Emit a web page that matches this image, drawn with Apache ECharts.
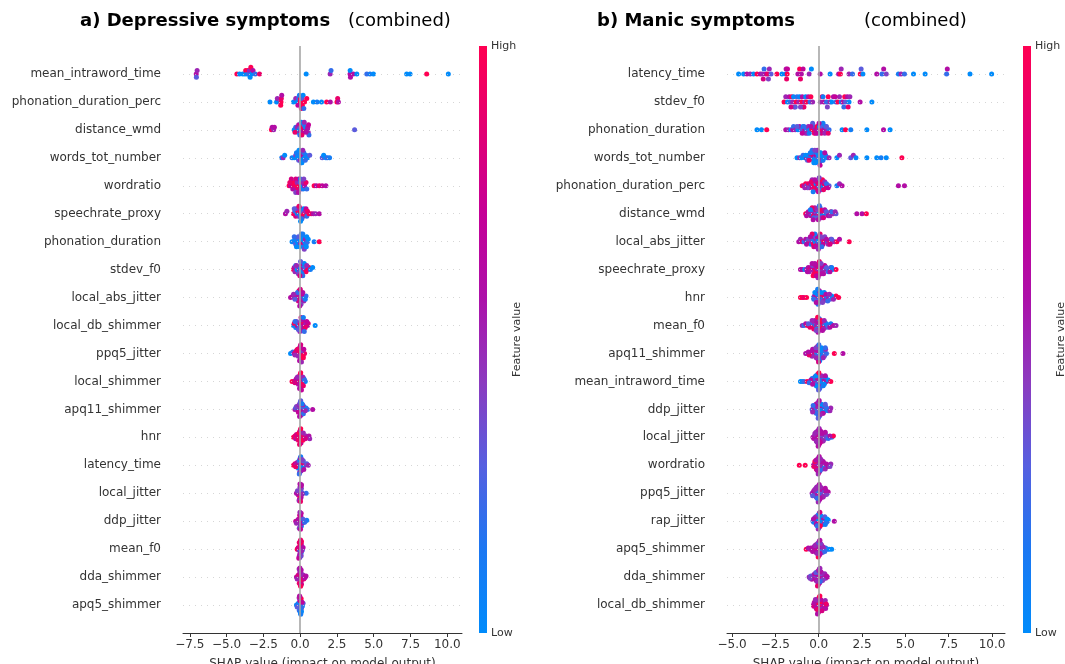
<!DOCTYPE html>
<html><head><meta charset="utf-8">
<script src="https://cdn.jsdelivr.net/npm/echarts@6/dist/echarts.min.js"></script>
<style>html,body{margin:0;padding:0;background:#fff}#c{width:1065px;height:664px}</style>
</head><body><div id="c"></div>
<script>
// ---------- DATA ----------
const depTitle = 'a) Depressive symptoms';
const manTitle = 'b) Manic symptoms';
const subTitle = '(combined)';
const xAxisName = 'SHAP value (impact on model output)';
const depTicks = [-7.5, -5, -2.5, 0, 2.5, 5, 7.5, 10];
const manTicks = [-5, -2.5, 0, 2.5, 5, 7.5, 10];
const depRange = [-7.96, 11.0];
const manRange = [-5.29, 10.75];

const depFeatures = ['mean_intraword_time','phonation_duration_perc','distance_wmd','words_tot_number','wordratio','speechrate_proxy','phonation_duration','stdev_f0','local_abs_jitter','local_db_shimmer','ppq5_jitter','local_shimmer','apq11_shimmer','hnr','latency_time','local_jitter','ddp_jitter','mean_f0','dda_shimmer','apq5_shimmer'];
const manFeatures = ['latency_time','stdev_f0','phonation_duration','words_tot_number','phonation_duration_perc','distance_wmd','local_abs_jitter','speechrate_proxy','hnr','mean_f0','apq11_shimmer','mean_intraword_time','ddp_jitter','local_jitter','wordratio','ppq5_jitter','rap_jitter','apq5_shimmer','dda_shimmer','local_db_shimmer'];

// [shap value, feature value (0 = low, 1 = high)]
const depPoints = [
 [[-7.06,0.6],[-7.0,0.5],[-7.05,0.3],[-4.3,1],[-4.12,0],[-3.9,0],[-3.75,0],[-3.7,1],[-3.6,0],[-3.55,1],[-3.5,0.2],[-3.45,0.5],[-3.4,0],[-3.35,1],[-3.3,0],[-3.2,0.6],[-3.05,0.2],[-2.76,0.9],[0.41,0],[2.04,0.5],[2.1,0.2],[3.39,0.6],[3.4,0],[3.42,0.6],[3.62,0.6],[3.85,0],[4.53,0.2],[4.75,0.1],[4.98,0],[7.24,0],[7.47,0],[8.6,1],[10.07,0]],
 [[-2.05,0],[-1.6,0],[-1.55,0.5],[-1.3,1],[-1.28,0.9],[-1.32,1],[-1.25,0.6],[-0.45,0],[-0.3,0.5],[-0.2,0],[-0.1,0.2],[0,1],[0.02,1],[0.05,0.8],[0.1,1],[0.12,0.3],[0.15,1],[0.2,0],[0.3,1],[0.45,1],[0.9,0],[1.15,0.1],[1.45,0],[1.8,1],[2.05,0.6],[2.5,1],[2.55,0.9],[2.6,0.6],[-0.05,0.1],[0.08,0.9],[0.25,0.2],[-0.15,0.7]],
 [[-1.95,1],[-1.9,0.6],[-1.8,0.5],[-1.75,0.6],[-0.4,0],[-0.3,0.2],[-0.25,0],[-0.2,0.5],[-0.15,0],[-0.1,0.6],[-0.05,0],[0,0.3],[0.02,0.6],[0.05,1],[0.1,0.5],[0.15,1],[0.2,0.6],[0.25,0.2],[0.3,0.8],[0.35,0.1],[0.5,0.6],[0.52,0.6],[0.55,0.5],[0.57,0.7],[0.6,0.2],[3.7,0.3],[-0.35,0.9],[0.4,0.6],[-0.02,0.2],[0.08,0],[0.12,0.9],[0.28,0.5]],
 [[-1.25,0.1],[-1.15,0.5],[-1.05,0],[-0.55,0.1],[-0.4,0],[-0.3,0.4],[-0.2,0],[-0.15,0],[-0.1,0.3],[-0.05,0],[0,0],[0.02,0.5],[0.05,0.1],[0.1,0],[0.15,0.6],[0.2,0],[0.25,0.2],[0.3,0],[0.4,0.1],[0.5,0],[0.65,0.3],[1.5,0.3],[1.6,0],[1.75,0],[1.85,0.2],[2.0,0.1],[-0.25,0.1],[0.08,0.2],[0.12,0],[-0.08,0],[0.35,0.2],[0.18,0.5]],
 [[-0.75,1],[-0.65,0.7],[-0.55,1],[-0.5,0.6],[-0.45,0.9],[-0.4,1],[-0.35,0.6],[-0.3,0.8],[-0.25,1],[-0.2,0.5],[-0.15,0.9],[-0.1,0.7],[-0.05,1],[0,0.3],[0.05,0.6],[0.1,0],[0.15,0.5],[0.2,0.1],[0.3,0.6],[0.4,0.9],[0.45,0.2],[0.95,1],[1.1,0.6],[1.3,0.9],[1.5,0.7],[1.75,0.6],[-0.6,0.8],[-0.3,0.4],[-0.12,0.6],[0.02,0.2],[0.25,0.4],[-0.7,0.9]],
 [[-1.0,0.6],[-0.9,0.5],[-0.45,1],[-0.35,0.2],[-0.3,0.8],[-0.2,0],[-0.15,1],[-0.1,0.5],[-0.05,0],[0,1],[0.02,0.2],[0.05,0.6],[0.08,0],[0.1,1],[0.15,0.3],[0.2,0.9],[0.25,0],[0.3,1],[0.35,0.5],[0.45,0.2],[0.6,1],[0.75,0.9],[0.9,0.6],[1.05,0.5],[1.3,0.6],[-0.25,0.5],[-0.08,0.9],[0.12,0.2],[0.4,0.7],[0.5,0.9],[-0.4,0.3],[0.03,0]],
 [[-0.55,0],[-0.45,0.1],[-0.35,0],[-0.3,0.3],[-0.2,0],[-0.15,0.2],[-0.1,0],[-0.05,0.1],[0,0],[0.02,0.5],[0.05,0],[0.1,0.3],[0.12,0],[0.15,0.8],[0.2,0],[0.25,0.2],[0.3,0],[0.35,0.5],[0.4,0.1],[0.45,0],[0.5,0.2],[0.55,0],[0.95,0.1],[1.3,1],[-0.12,0.3],[-0.02,0],[0.08,0.2],[0.18,0.1],[-0.25,0],[0.28,0.4],[0.42,0],[-0.4,0.2]],
 [[-0.45,1],[-0.4,0.6],[-0.35,0.5],[-0.3,0.2],[-0.2,0],[-0.15,0.3],[-0.1,0],[-0.05,0.6],[0,0.1],[0.02,0],[0.05,0.4],[0.1,0],[0.15,0.6],[0.2,0.1],[0.25,0],[0.3,0.5],[0.35,0.2],[0.4,1],[0.5,0.9],[0.6,1],[0.7,0.1],[0.85,0],[-0.25,0.5],[-0.08,0.2],[0.08,0.6],[0.12,0.1],[-0.12,0.4],[0.28,0],[0.45,0.5],[0.18,0.2],[-0.02,0.8],[0.03,0.3]],
 [[-0.65,0.6],[-0.5,0.7],[-0.4,0.5],[-0.3,0.6],[-0.2,0.9],[-0.15,0.5],[-0.1,0.6],[-0.05,1],[0,0.5],[0.02,0.6],[0.05,0.7],[0.08,0.3],[0.1,0.6],[0.15,0.2],[0.2,0.5],[0.3,0],[0.4,0.2],[-0.25,0.6],[-0.12,0.8],[-0.02,0.4],[0.12,0.7],[0.25,0.5],[-0.35,0.3],[0.03,0.6],[-0.08,0.9],[0.06,0.4],[0.18,0.6],[-0.18,0.2],[0.35,0.1],[-0.45,0.5],[0.01,0.8],[-0.03,0.6]],
 [[-0.45,0],[-0.4,1],[-0.3,0.1],[-0.2,0.8],[-0.15,0],[-0.1,0.6],[-0.05,0.2],[0,1],[0.02,0.4],[0.05,0.6],[0.1,0],[0.12,0.8],[0.15,0.5],[0.2,0.9],[0.25,0.6],[0.3,0.7],[0.4,0.5],[0.5,0.6],[0.55,0.8],[1.02,0],[-0.25,0.4],[-0.08,0.9],[0.08,0.3],[0.18,0.6],[-0.35,0.2],[0.35,0.9],[-0.02,0.5],[0.28,0.2],[0.45,0.7],[-0.12,0.3],[0.06,0.8],[0.22,0.1]],
 [[-0.65,0],[-0.5,0.2],[-0.4,0.6],[-0.3,1],[-0.2,0.7],[-0.15,1],[-0.1,0.6],[-0.05,0.9],[0,1],[0.02,0.6],[0.05,0.9],[0.08,0.5],[0.1,1],[0.15,0.6],[0.2,0.8],[0.3,0.9],[-0.25,0.8],[-0.08,1],[0.03,0.7],[0.12,0.4],[-0.02,0.9],[0.06,1],[-0.12,0.5],[0.01,0.6],[0.18,1],[-0.35,0.5],[0.25,0.7],[-0.04,0.6],[0.04,0.8],[-0.18,0.9],[0.09,0.5],[0.22,1]],
 [[-0.55,1],[-0.4,0.9],[-0.3,0.6],[-0.2,1],[-0.15,0.7],[-0.1,1],[-0.05,0.5],[0,0.9],[0.02,1],[0.05,0.6],[0.08,0.8],[0.1,0.3],[0.15,0.9],[0.2,0.5],[0.25,0.1],[0.35,0],[-0.25,0.6],[-0.08,0.8],[0.03,0.5],[0.12,1],[-0.02,0.7],[0.06,0.9],[-0.12,0.6],[0.01,1],[0.18,0.5],[-0.35,0.8],[0.22,0.9],[-0.04,0.6],[0.04,1],[-0.18,0.5],[0.09,0.7],[0.3,0.2]],
 [[-0.35,0.6],[-0.3,0.2],[-0.2,0.5],[-0.15,0],[-0.1,0.6],[-0.05,0.3],[0,0.5],[0.02,0.2],[0.05,0.6],[0.08,0.4],[0.1,0.5],[0.15,0.2],[0.2,0.6],[0.25,0],[0.3,0.3],[0.4,0.1],[0.5,0.2],[0.85,0.6],[-0.25,0.4],[-0.08,0.5],[0.03,0.3],[0.12,0.6],[-0.02,0.4],[0.06,0.5],[-0.12,0.7],[0.01,0.3],[0.18,0.5],[0.22,0.2],[-0.04,0.6],[0.04,0.3],[0.35,0.5],[0.13,0.1]],
 [[-0.45,1],[-0.35,0.9],[-0.3,0.6],[-0.2,1],[-0.15,0.9],[-0.1,0.6],[-0.05,1],[0,0.9],[0.02,1],[0.05,0.6],[0.08,1],[0.1,0.8],[0.15,1],[0.2,0.6],[0.3,0.9],[0.4,0.5],[0.5,0.7],[0.6,0.6],[0.65,0.5],[-0.25,0.8],[-0.08,1],[0.03,0.6],[0.12,0.9],[-0.02,1],[0.06,0.7],[-0.12,0.9],[0.01,0.6],[0.18,1],[0.22,0.5],[-0.04,0.9],[0.04,1],[0.35,0.8]],
 [[-0.45,1],[-0.35,0.8],[-0.25,0.5],[-0.15,0],[-0.1,0.2],[-0.05,0.6],[0,0],[0.02,0.3],[0.05,0.1],[0.08,0.6],[0.1,0],[0.15,0.4],[0.2,0.2],[0.3,0.5],[0.45,0.3],[0.55,0.5],[-0.2,0.6],[-0.08,0.3],[0.03,0.2],[0.12,0.9],[-0.02,0],[0.06,0.5],[-0.12,0.1],[0.01,0.7],[0.18,0],[-0.3,0.9],[0.22,0.3],[-0.04,0.5],[0.04,0.1],[0.25,0.6],[0.13,0.4],[-0.06,0.2]],
 [[-0.25,0.6],[-0.2,0.5],[-0.15,0.7],[-0.1,0.6],[-0.08,0.5],[-0.05,0.9],[-0.04,0.6],[-0.02,0.5],[0,0.6],[0.01,0.7],[0.02,0.4],[0.03,0.6],[0.04,0.8],[0.05,0.5],[0.06,0.6],[0.08,0.4],[0.1,0.6],[0.12,0.3],[0.41,0.2],[-0.12,0.6],[-0.03,1],[-0.01,0.5],[0.015,0.6],[0.035,0.4],[-0.06,0.6],[0.07,0.7],[-0.07,0.5],[0.09,0.6],[-0.18,0.4],[0.14,0.5],[0.025,0.9],[-0.015,0.6]],
 [[-0.3,0.7],[-0.2,0.5],[-0.15,0.9],[-0.1,0.6],[-0.08,0.3],[-0.05,0.7],[-0.04,0.5],[-0.02,1],[0,0.6],[0.01,0.4],[0.02,0.7],[0.03,0.5],[0.04,0.2],[0.05,0.6],[0.08,0.1],[0.1,0.5],[0.15,0],[0.25,0.2],[0.35,0],[0.45,0.1],[-0.12,0.6],[-0.03,0.8],[-0.01,0.5],[0.015,0.6],[-0.06,0.4],[0.07,0.7],[0.2,0.3],[0.12,0.6],[-0.25,0.5],[0.3,0.2],[0.025,0.7],[-0.015,0.5]],
 [[-0.2,1],[-0.15,0.9],[-0.1,0.6],[-0.08,1],[-0.05,0.8],[-0.04,0.3],[-0.02,1],[0,0.6],[0.01,0.9],[0.02,0.2],[0.03,1],[0.04,0.5],[0.05,0.9],[0.06,0.1],[0.08,0.7],[0.1,0.3],[0.12,0.9],[0.15,0.2],[0.2,0.6],[-0.12,0.8],[-0.03,0.5],[-0.01,1],[0.015,0.6],[-0.06,0.9],[0.07,0.4],[0.09,1],[-0.07,0.6],[0.025,0.8],[-0.015,0.3],[0.035,0.9],[0.11,0.5],[-0.09,0.7]],
 [[-0.25,0.6],[-0.15,0.9],[-0.1,0.5],[-0.05,1],[-0.03,0.6],[0,0.8],[0.01,0.5],[0.02,1],[0.03,0.6],[0.05,0.9],[0.06,0.5],[0.08,0.7],[0.1,1],[0.12,0.6],[0.15,0.8],[0.2,0.5],[0.25,0.9],[0.35,0.7],[0.4,0.6],[-0.12,0.8],[-0.02,0.6],[-0.01,1],[0.015,0.5],[-0.06,0.9],[0.07,0.6],[0.09,0.8],[-0.07,0.5],[0.025,0.7],[-0.015,0.6],[0.035,1],[-0.2,0.5],[0.3,0.6]],
 [[-0.25,0],[-0.15,0.2],[-0.1,0.6],[-0.05,0],[-0.03,1],[0,0.2],[0.01,0],[0.02,0.9],[0.03,0.1],[0.05,0.6],[0.06,0],[0.08,0.5],[0.1,0.1],[0.12,0.8],[0.15,0],[0.2,0.3],[-0.12,0.1],[-0.02,0.8],[-0.01,0],[0.015,0.6],[-0.06,0.2],[0.07,1],[0.09,0],[-0.07,0.5],[0.025,0.1],[-0.015,0.9],[0.035,0],[-0.2,0.3],[0.11,0.2],[-0.04,0.6],[0.04,0.1],[0.13,0.7]]
];

const manPoints = [
 [[-4.62,0],[-4.33,0],[-4.14,0.6],[-3.95,0.5],[-3.76,0],[-3.56,1],[-3.37,0.6],[-3.25,0.5],[-3.15,0.2],[-3.05,0.6],[-2.95,0.9],[-2.85,0.5],[-2.75,0.3],[-2.41,1],[-2.12,0],[-1.9,0],[-1.88,0.6],[-1.85,0.9],[-1.82,1],[-1.8,0.7],[-1.2,0.6],[-1.1,1],[-1.0,0.6],[-0.9,0.7],[-0.55,0.5],[-0.42,0],[0.09,0.6],[0.66,0],[1.15,0.6],[1.25,1],[1.3,0.5],[1.75,0.5],[1.95,0.2],[2.4,1],[2.45,0.3],[2.55,0],[3.35,0.6],[3.65,0.2],[3.75,0.6],[3.9,0.4],[4.6,0.1],[4.75,0.5],[4.95,0.2],[5.47,0],[6.14,0],[7.38,0.2],[7.42,0.6],[8.73,0],[9.98,0],[-3.2,0.8],[-2.9,0.4],[-1.05,0.9]],
 [[-2.0,1],[-1.9,0.5],[-1.8,0],[-1.7,0.6],[-1.65,0.2],[-1.55,1],[-1.5,0.5],[-1.45,0],[-1.4,0.6],[-1.3,1],[-1.25,0.2],[-1.15,0.5],[-1.1,0],[-1.0,1],[-0.95,0.6],[-0.9,0.3],[-0.8,0.5],[-0.75,0],[-0.7,1],[-0.6,0.6],[-0.5,0.2],[-0.45,1],[-0.35,0.5],[0.1,0.5],[0.2,0.9],[0.3,0.6],[0.45,0.2],[0.55,1],[0.65,0.5],[0.75,0],[0.85,0.6],[1.0,0.2],[1.1,1],[1.2,0.5],[1.3,0],[1.4,0.6],[1.5,1],[1.55,0.3],[1.65,0.6],[1.75,0],[1.8,0.5],[2.39,0.6],[3.07,0],[-1.35,0.3],[-1.6,0.8],[-0.85,0.9],[0.5,0.4],[0.95,0.7],[1.45,0.2],[-1.05,0.4],[0.25,0.1],[1.7,0.9]],
 [[-3.56,0],[-3.3,0],[-3.0,1],[-1.9,0.6],[-1.75,0.5],[-1.6,0],[-1.5,0.6],[-1.45,0.2],[-1.35,0.5],[-1.2,0],[-1.1,0.6],[-1.0,0.3],[-0.9,0],[-0.8,0.6],[-0.7,0.2],[-0.6,0.5],[-0.5,0],[-0.4,1],[-0.3,0.2],[-0.2,0.6],[-0.1,1],[0,0.5],[0.05,0],[0.1,1],[0.2,0.3],[0.3,0.6],[0.4,0],[0.5,0.5],[0.6,0.2],[1.35,0],[1.55,1],[1.85,0.1],[2.78,0],[3.74,0.6],[4.12,0],[-0.25,0.9],[-0.65,0.4],[-1.25,0.3],[0.15,0.8],[-0.05,0.2],[0.35,0.5],[-0.35,0.3],[-0.15,0.7],[0.25,0.1],[-0.45,0.6],[-0.85,0.2],[-0.75,0.5],[0.45,0.3],[0.02,0.6],[-0.55,0.1],[0.55,0.9],[-0.95,0.7]],
 [[-1.25,0],[-1.1,0.5],[-1.0,0],[-0.9,0.2],[-0.8,0],[-0.7,0.6],[-0.6,0],[-0.5,0.1],[-0.45,0.5],[-0.4,0],[-0.35,0.8],[-0.3,0],[-0.25,0.2],[-0.2,0],[-0.15,0.6],[-0.1,0],[-0.05,0.3],[-0.02,0],[0,0.1],[0.02,0.6],[0.05,0],[0.1,0.2],[0.15,0],[0.2,0.5],[0.3,0],[0.4,0.2],[0.5,0],[0.6,0.5],[1.05,0],[1.2,0.5],[1.85,0.3],[2.0,0.5],[2.15,0],[2.78,0],[3.35,0],[3.6,0.1],[3.9,0],[4.8,1],[-0.65,0.3],[-0.55,0.9],[-0.12,0.1],[-0.08,0.5],[-0.28,0],[-0.38,0.2],[-0.18,0],[0.08,0.7],[0.25,0.1],[-0.75,0],[-0.22,0.4],[0.12,0],[-0.48,0.1],[0.35,0.6]],
 [[-0.95,1],[-0.85,0.6],[-0.75,1],[-0.7,0.3],[-0.6,0.9],[-0.5,1],[-0.45,0.6],[-0.4,0],[-0.35,1],[-0.3,0.8],[-0.25,0.5],[-0.2,1],[-0.15,0],[-0.1,0.9],[-0.05,0.6],[0,1],[0.02,0.2],[0.05,0.9],[0.1,0.5],[0.15,1],[0.2,0.6],[0.25,0],[0.3,0.9],[0.4,0.6],[0.5,1],[0.6,0.3],[1.05,0.1],[1.2,0.5],[1.35,0.6],[4.6,0.6],[4.95,0.6],[-0.55,0.7],[-0.65,0.4],[-0.12,0.8],[-0.08,0.2],[-0.28,1],[-0.38,0.5],[-0.18,0.9],[0.08,0],[0.12,0.7],[0.18,0.2],[0.22,1],[0.35,0.5],[-0.42,0.9],[0.45,0.2],[-0.02,0.7],[0.03,0.4],[-0.22,0.6],[-0.32,0.1],[0.28,0.9],[-0.8,0.5],[0.55,0.7]],
 [[-0.75,1],[-0.65,0.5],[-0.55,0],[-0.5,1],[-0.45,0.6],[-0.4,0.2],[-0.35,0.5],[-0.3,1],[-0.25,0],[-0.2,0.6],[-0.15,0.3],[-0.1,0.9],[-0.05,0.5],[0,0],[0.05,1],[0.1,0.2],[0.15,0.6],[0.2,0],[0.3,1],[0.4,0.5],[0.5,0.2],[0.6,0.6],[0.7,1],[0.85,0.5],[1.0,0.3],[2.2,0.6],[2.5,0.6],[2.75,1],[-0.6,0.6],[-0.28,0.2],[-0.18,0.8],[-0.08,0.4],[0.02,0.6],[0.08,0.1],[0.12,0.9],[-0.12,0.3],[-0.22,0.5],[0.25,0.1],[0.35,0.6],[-0.38,0.9],[0.45,0.3],[-0.02,0.6],[0.18,0.5],[-0.48,0.1],[0.55,0.6],[0.65,0.5],[0.75,0.2],[-0.7,0.6],[0.28,0.8],[0.04,0.2],[0.95,0.5],[-0.32,0.6]],
 [[-1.15,0.6],[-1.05,0.5],[-0.95,0.9],[-0.85,0.2],[-0.75,0.6],[-0.65,0],[-0.55,1],[-0.5,0.6],[-0.45,0],[-0.4,0.5],[-0.35,0.2],[-0.3,1],[-0.25,0.6],[-0.2,0],[-0.15,0.5],[-0.1,0.9],[-0.05,0.2],[0,0],[0.05,0.6],[0.1,0.2],[0.15,0.5],[0.2,0],[0.3,1],[0.4,0.6],[0.5,0.2],[0.6,1],[0.7,0.6],[0.8,0.9],[0.9,0.5],[1.05,1],[1.2,0.6],[1.76,1],[-0.6,0.4],[-0.28,0.8],[-0.18,0.3],[-0.08,0.6],[0.02,0.1],[0.08,0.9],[0.12,0.4],[-0.12,0.6],[-0.22,0.1],[0.25,0.7],[0.35,0.4],[-0.38,0.9],[0.45,0.6],[-0.02,0.5],[0.18,0.2],[-0.48,0.6],[0.55,0.5],[0.65,0.8],[0.75,0.3],[-0.7,0.6]],
 [[-1.05,0.6],[-0.95,0.6],[-0.8,0],[-0.7,0.5],[-0.6,0.6],[-0.5,1],[-0.4,0.6],[-0.3,0.8],[-0.25,0.5],[-0.2,1],[-0.15,0.6],[-0.1,0.9],[-0.05,0.5],[0,1],[0.05,0.6],[0.1,0.2],[0.15,0.8],[0.2,0.5],[0.3,0.6],[0.4,0.2],[0.5,0.6],[0.6,0],[0.7,0.5],[0.8,0.1],[1.0,1],[-0.45,0.7],[-0.35,0.4],[-0.28,0.9],[-0.18,0.6],[-0.08,0.7],[0.02,0.5],[0.08,0.9],[0.12,0.6],[-0.12,1],[-0.22,0.6],[0.25,0.5],[0.35,0.7],[-0.38,0.6],[0.45,0.3],[-0.02,0.8],[0.18,0.6],[-0.55,0.5],[0.55,0.2],[0.65,0.6],[0.75,0.1],[-0.65,0.6],[0.04,0.9],[-0.04,0.5],[0.28,0.6],[-0.32,1],[0.14,0.4],[-0.14,0.7]],
 [[-1.05,1],[-0.95,1],[-0.85,0.9],[-0.7,1],[-0.3,0],[-0.25,0.5],[-0.2,0.2],[-0.15,1],[-0.1,0],[-0.05,0.6],[0,0.5],[0.05,0],[0.1,1],[0.15,0.3],[0.2,0.6],[0.25,0],[0.3,1],[0.4,0.5],[0.5,0.2],[0.6,0],[0.7,0.6],[0.8,1],[0.9,0],[1.0,1],[1.15,1],[-0.28,0.2],[-0.18,0.6],[-0.08,0.1],[0.02,0.5],[0.08,0.2],[0.12,0.9],[-0.12,0.3],[-0.22,0],[0.35,0.6],[0.45,0.1],[-0.02,0.5],[0.18,0.2],[0.55,0.6],[0.65,0.3],[0.75,0],[0.85,0.5],[0.04,0.6],[-0.04,0.2],[0.28,0.5],[0.14,0],[-0.14,0.6],[0.22,0.4],[0.32,0],[0.42,0.6],[0.52,0.2],[0.62,0.5],[-0.06,0.1]],
 [[-0.95,0.5],[-0.85,0.2],[-0.75,0.6],[-0.65,1],[-0.55,0.5],[-0.45,0],[-0.4,0.6],[-0.35,0.2],[-0.3,1],[-0.25,0.5],[-0.2,0],[-0.15,0.6],[-0.1,1],[-0.05,0.5],[0,0.2],[0.05,1],[0.1,0.6],[0.15,0],[0.2,0.5],[0.25,1],[0.3,0.2],[0.4,0.6],[0.5,0],[0.6,0.5],[0.7,0.1],[0.85,0.6],[1.0,0.5],[-0.28,0.9],[-0.18,0.4],[-0.08,0.6],[0.02,0.1],[0.08,0.5],[0.12,0.9],[-0.12,0.2],[-0.22,0.6],[0.35,0.4],[0.45,0.1],[-0.38,0.5],[-0.02,0.6],[0.18,1],[0.55,0.3],[0.65,0.6],[0.04,0.2],[-0.04,0.6],[0.28,0.5],[0.14,1],[-0.14,0.4],[0.22,0.6],[-0.5,0.9],[-0.6,0.3],[0.32,0.5],[-0.06,1]],
 [[-0.75,0.6],[-0.65,0.5],[-0.5,1],[-0.4,0.6],[-0.3,0.2],[-0.25,0.5],[-0.2,1],[-0.15,0],[-0.1,0.5],[-0.05,0.2],[0,0],[0.05,0.6],[0.1,0],[0.15,0.3],[0.2,0.6],[0.25,0.1],[0.3,0],[0.35,0.5],[0.45,0.2],[0.9,1],[1.4,0.6],[-0.28,0.9],[-0.18,0.4],[-0.08,0.6],[0.02,0.1],[0.08,0.5],[0.12,0],[-0.12,0.2],[-0.22,0.6],[-0.38,0.5],[-0.02,0.3],[0.18,0.1],[0.04,0],[-0.04,0.6],[0.28,0.2],[0.14,0],[-0.14,0.5],[0.22,0.1],[-0.45,0.6],[-0.55,0.9],[0.32,0.3],[-0.06,0.7],[0.06,0.1],[-0.35,0.6],[0.4,0.5],[0.16,0],[-0.16,0.4],[0.01,0.2],[-0.01,0.8],[0.26,0.5],[0.38,0.2],[-0.6,0.6]],
 [[-1.05,0],[-0.95,0],[-0.85,0.2],[-0.67,1],[-0.5,0.6],[-0.4,0],[-0.3,0.5],[-0.2,0.2],[-0.15,0],[-0.1,0.6],[-0.05,0.2],[0,0],[0.05,0.5],[0.1,0],[0.15,0.6],[0.2,0.2],[0.25,0],[0.3,0.5],[0.35,0.1],[0.45,0.6],[0.55,0],[0.7,1],[-0.28,0.5],[-0.18,0.1],[-0.08,0.6],[0.02,0.2],[0.08,0.9],[0.12,0],[-0.12,0.3],[-0.22,0.5],[-0.38,0.1],[-0.02,0.6],[0.18,0],[0.04,0.3],[-0.04,0.1],[0.28,0.6],[0.14,0.2],[-0.14,0],[0.22,0.5],[-0.45,0.6],[-0.55,0.2],[0.32,0],[-0.06,0.9],[0.06,0.2],[-0.35,0.6],[0.4,0.1],[0.16,0.5],[-0.16,0],[0.01,1],[-0.01,0.3],[0.26,0.1],[0.38,0.6]],
 [[-0.38,0.3],[-0.3,0.5],[-0.25,0],[-0.2,0.6],[-0.15,0.2],[-0.1,0.5],[-0.05,0],[0,0.3],[0.05,0.6],[0.1,0],[0.15,0.5],[0.2,0.2],[0.25,0],[0.3,0.6],[0.35,0.1],[0.4,0.5],[0.5,0.2],[0.6,0],[0.7,0.5],[-0.28,0.6],[-0.18,0.1],[-0.08,0.5],[0.02,0.2],[0.08,0.6],[0.12,0],[-0.12,0.3],[-0.22,0.5],[-0.02,0.6],[0.18,0.1],[0.04,0.5],[-0.04,0.2],[0.28,0],[0.14,0.6],[-0.14,0.2],[0.22,0.5],[0.32,0.1],[-0.06,0.6],[0.06,0.3],[-0.35,0.5],[0.45,0.2],[0.16,0],[-0.16,0.6],[0.01,0.4],[-0.01,0.1],[0.26,0.6],[0.38,0.3],[0.55,0.1],[0.65,0.5],[-0.32,0.2],[0.03,0.6],[-0.03,0.3],[0.09,0.5]],
 [[-0.33,0.6],[-0.25,0.5],[-0.2,0.9],[-0.15,0.6],[-0.1,0.4],[-0.05,0.6],[0,0.5],[0.05,1],[0.1,0.6],[0.15,0.3],[0.2,0.6],[0.25,0],[0.3,0.5],[0.35,0.6],[0.4,0.2],[0.5,0],[0.6,0.5],[0.75,0.2],[0.85,1],[-0.28,0.6],[-0.18,0.5],[-0.08,0.7],[0.02,0.5],[0.08,0.6],[0.12,0.4],[-0.12,0.6],[-0.22,0.5],[-0.02,1],[0.18,0.6],[0.04,0.5],[-0.04,0.6],[0.28,0.3],[0.14,0.6],[-0.14,0.5],[0.22,0.9],[0.32,0.6],[-0.06,0.5],[0.06,0.6],[0.45,0.4],[0.16,0.6],[-0.16,0.5],[0.01,0.6],[-0.01,0.8],[0.26,0.5],[0.38,0.6],[0.55,0.2],[0.65,0.6],[0.03,0.5],[-0.03,0.6],[0.09,0.7],[-0.09,0.5],[0.11,0.6]],
 [[-1.12,1],[-0.78,1],[-0.3,0.6],[-0.25,0.5],[-0.2,0.8],[-0.15,0.6],[-0.1,1],[-0.05,0.6],[0,0.5],[0.05,0.2],[0.1,0.6],[0.15,0.5],[0.2,0.1],[0.25,0.6],[0.3,0.5],[0.4,0.6],[0.5,0.3],[0.6,0.6],[0.7,0.5],[-0.28,0.9],[-0.18,0.6],[-0.08,0.5],[0.02,0.7],[0.08,0.6],[0.12,0.5],[-0.12,0.6],[-0.22,1],[-0.02,0.6],[0.18,0.5],[0.04,0.8],[-0.04,0.6],[0.28,0.5],[0.14,0.6],[-0.14,0.9],[0.22,0.5],[0.32,0.2],[-0.06,0.6],[0.06,0.5],[0.45,0.6],[0.16,0.4],[-0.16,0.6],[0.01,0.5],[-0.01,1],[0.26,0.6],[0.38,0.5],[0.55,0.6],[0.65,0.4],[0.03,0.6],[-0.03,0.5],[0.09,0.2],[-0.09,0.6],[0.11,0.5]],
 [[-0.38,0.5],[-0.3,0.6],[-0.25,0.2],[-0.2,0.6],[-0.15,0.5],[-0.1,0.3],[-0.05,0.6],[0,0.5],[0.05,0.2],[0.1,0.6],[0.15,0.5],[0.2,0.1],[0.25,0.6],[0.3,0.5],[0.35,0.4],[0.4,0.6],[0.5,0.1],[0.55,0.6],[-0.28,0.6],[-0.18,0.5],[-0.08,0.2],[0.02,0.6],[0.08,0.5],[0.12,0.3],[-0.12,0.6],[-0.22,0.5],[-0.02,0.6],[0.18,0.2],[0.04,0.5],[-0.04,0.6],[0.28,0.4],[0.14,0.6],[-0.14,0.5],[0.22,0.6],[0.32,0.2],[-0.06,0.5],[0.06,0.6],[0.45,0.4],[0.16,0.6],[-0.16,0.5],[0.01,0.2],[-0.01,0.6],[0.26,0.5],[0.38,0.6],[-0.35,0.3],[0.03,0.6],[-0.03,0.5],[0.09,0.6],[-0.09,0.2],[0.11,0.5],[0.42,0.6],[-0.11,0.5]],
 [[-0.33,0.2],[-0.25,0],[-0.2,0.6],[-0.15,0.2],[-0.1,0],[-0.05,0.5],[0,1],[0.05,0.2],[0.1,0],[0.15,0.6],[0.2,0.3],[0.25,0],[0.3,0.5],[0.4,0.1],[0.5,0.2],[0.55,0],[0.9,0.6],[-0.28,0.1],[-0.18,0.5],[-0.08,0],[0.02,0.9],[0.08,0.2],[0.12,0],[-0.12,0.6],[-0.22,0.2],[-0.02,1],[0.18,0],[0.04,0.5],[-0.04,0.1],[0.28,0.2],[0.14,0],[-0.14,0.6],[0.22,0.1],[0.32,0.5],[-0.06,0],[0.06,0.9],[0.45,0.2],[0.16,0],[-0.16,0.5],[0.01,0.2],[-0.01,0],[0.26,0.6],[0.38,0.1],[0.03,0],[-0.03,0.5],[0.09,1],[-0.09,0.2],[0.11,0],[0.35,0.3],[-0.3,0.6],[0.48,0],[0.07,0.8]],
 [[-0.72,1],[-0.6,0.6],[-0.5,0.5],[-0.4,0.9],[-0.3,0.5],[-0.25,0.6],[-0.2,1],[-0.15,0.5],[-0.1,0.6],[-0.05,0.3],[0,0.6],[0.05,0.5],[0.1,0.2],[0.15,0.6],[0.2,0.4],[0.3,0.5],[0.4,0.1],[0.5,0.3],[0.6,0],[0.75,0],[-0.28,0.5],[-0.18,0.7],[-0.08,0.6],[0.02,0.5],[0.08,0.3],[0.12,0.6],[-0.12,0.8],[-0.22,0.5],[-0.02,0.6],[0.18,0.2],[0.04,0.5],[-0.04,0.9],[0.28,0.4],[0.14,0.5],[-0.14,0.6],[0.22,0.3],[-0.06,0.6],[0.06,0.5],[0.16,0.6],[-0.16,0.5],[0.01,0.2],[-0.01,0.6],[0.26,0.5],[-0.35,0.6],[0.03,0.5],[-0.03,1],[0.09,0.6],[-0.09,0.5],[0.11,0.4],[-0.45,0.6],[0.35,0.2],[0.07,0.6]],
 [[-0.55,0.5],[-0.45,0.3],[-0.35,0.6],[-0.3,0.2],[-0.25,0.5],[-0.2,0.6],[-0.15,1],[-0.1,0.5],[-0.05,0.6],[0,0.2],[0.05,0.5],[0.1,0.6],[0.15,0.3],[0.2,0.5],[0.25,0.6],[0.3,0.2],[0.4,0.5],[0.5,0.6],[-0.28,0.5],[-0.18,0.3],[-0.08,0.6],[0.02,1],[0.08,0.5],[0.12,0.6],[-0.12,0.4],[-0.22,0.6],[-0.02,0.5],[0.18,0.6],[0.04,0.3],[-0.04,0.5],[0.28,0.6],[0.14,0.4],[-0.14,0.6],[0.22,0.5],[-0.06,1],[0.06,0.6],[0.16,0.5],[-0.16,0.3],[0.01,0.6],[-0.01,0.5],[0.26,0.4],[-0.4,0.6],[0.03,0.5],[-0.03,0.6],[0.09,0.2],[-0.09,0.5],[0.11,0.6],[0.35,0.5],[-0.5,0.4],[0.45,0.6],[0.07,0.5],[-0.07,0.9]],
 [[-0.3,0.6],[-0.25,1],[-0.2,0.6],[-0.15,0.9],[-0.1,0.5],[-0.05,1],[0,0.6],[0.05,0.9],[0.1,0.5],[0.15,1],[0.2,0.6],[0.25,0.8],[0.3,0.5],[0.35,1],[0.45,0.6],[-0.28,0.8],[-0.18,0.6],[-0.08,1],[0.02,0.6],[0.08,0.9],[0.12,0.5],[-0.12,0.6],[-0.22,0.9],[-0.02,0.6],[0.18,1],[0.04,0.5],[-0.04,0.8],[0.28,0.6],[0.14,1],[-0.14,0.6],[0.22,0.5],[-0.06,0.9],[0.06,0.6],[0.16,1],[-0.16,0.5],[0.01,0.6],[-0.01,0.9],[0.26,0.6],[0.03,1],[-0.03,0.6],[0.09,0.5],[-0.09,0.9],[0.11,0.6],[0.32,0.8],[0.4,0.6],[0.07,1],[-0.07,0.6],[0.38,0.5],[0.43,0.9],[-0.26,0.6],[0.19,0.8],[-0.19,0.5]]
];

// colour map (low -> high feature value)
const cmap = ['#008bfb','#1c77f2','#565fe0','#8c3abf','#ad10a9','#c50097','#e20073','#ff0052'];

// ---------- LAYOUT HELPERS ----------
const FONT = '"DejaVu Sans", "Liberation Sans", sans-serif';
const panels = [
  {features: depFeatures, points: depPoints, ticks: depTicks, range: depRange, left: 183, width: 279, title: depTitle, titleX: 80, subX: 348, barX: 479},
  {features: manFeatures, points: manPoints, ticks: manTicks, range: manRange, left: 727, width: 278, title: manTitle, titleX: 597, subX: 864, barX: 1023}
];
const TOP = 46, HEIGHT = 587;

// beeswarm offsets, following the shap summary-plot layering rule
function swarm(vals, binW) {
  const n = vals.length;
  const quant = vals.map(v => Math.round(v / binW));
  const idx = vals.map((_, i) => i).sort((a, b) => (quant[a] - quant[b]) || (a - b));
  const ys = new Array(n).fill(0);
  let layer = 0, last = null;
  for (const i of idx) {
    if (quant[i] !== last) layer = 0;
    ys[i] = Math.ceil(layer / 2) * ((layer % 2) * 2 - 1);
    layer++; last = quant[i];
  }
  const m = Math.max(...ys.map(y => y + 1));
  const s = 0.9 * (0.4 / m);
  return ys.map(y => y * s);
}

const grids = [], xAxes = [], yAxes = [], series = [], visualMaps = [], graphics = [];
const fmt = v => (v < 0 ? '\u2212' : '') + Math.abs(v).toFixed(1);

panels.forEach((p, k) => {
  const nRows = p.features.length;
  grids.push({left: p.left, width: p.width, top: TOP, height: HEIGHT, outerBoundsMode: 'none', containLabel: false});
  xAxes.push({
    type: 'value', gridIndex: k, min: p.range[0], max: p.range[1],
    name: xAxisName, nameLocation: 'middle', nameGap: 25,
    nameTextStyle: {fontFamily: FONT, fontSize: 12, color: '#333'},
    axisLine: {show: true, onZero: false, lineStyle: {color: '#333', width: 1}},
    axisTick: {show: true, length: 4, lineStyle: {color: '#333'}, customValues: p.ticks},
    axisLabel: {show: true, customValues: p.ticks, formatter: fmt, fontFamily: FONT, fontSize: 12, color: '#333', margin: 6},
    splitLine: {show: false}
  });
  const rowVals = p.features.map((_, i) => i);
  yAxes.push({
    type: 'value', gridIndex: k, min: -1, max: nRows,
    axisLine: {show: false, onZero: false}, axisTick: {show: false}, splitLine: {show: false},
    axisLabel: {show: true, customValues: rowVals, margin: 22, fontFamily: FONT, fontSize: 12, color: '#333',
      formatter: v => p.features[nRows - 1 - Math.round(v)] || ''}
  });
  // reference lines (zero line + dotted row guides)
  series.push({
    type: 'scatter', xAxisIndex: k, yAxisIndex: k, data: [], z: 1, silent: true,
    markLine: {
      silent: true, symbol: ['none', 'none'], label: {show: false}, animation: false,
      data: rowVals.map(i => ({yAxis: i, lineStyle: {color: '#cccccc', width: 0.8, type: [1, 5]}}))
        .concat([{xAxis: 0, lineStyle: {color: '#a6a6a6', width: 1.6, type: 'solid'}}])
    }
  });
  const binW = (p.range[1] - p.range[0]) / 100;
  const data = [];
  p.points.forEach((row, i) => {
    const yRow = nRows - 1 - i;
    const jit = swarm(row.map(d => d[0]), binW);
    row.forEach((d, j) => data.push([d[0], yRow + jit[j], d[1]]));
  });
  series.push({
    type: 'scatter', xAxisIndex: k, yAxisIndex: k, data: data, z: 2,
    symbolSize: 5, itemStyle: {opacity: 1}, silent: true
  });
  visualMaps.push({
    type: 'continuous', show: false, seriesIndex: series.length - 1, dimension: 2,
    min: 0, max: 1, inRange: {color: cmap}
  });
  // titles
  graphics.push({type: 'text', style: {x: p.titleX, y: 21, text: p.title, font: 'bold 18px ' + FONT, fill: '#000', align: 'left', verticalAlign: 'middle'}});
  graphics.push({type: 'text', style: {x: p.subX, y: 21, text: subTitle, font: '18px ' + FONT, fill: '#000', align: 'left', verticalAlign: 'middle'}});
  // colour bar
  const stops = cmap.map((c, i) => ({offset: 1 - i / (cmap.length - 1), color: c})).reverse();
  graphics.push({type: 'rect', shape: {x: p.barX, y: TOP, width: 8, height: HEIGHT},
    style: {fill: new echarts.graphic.LinearGradient(0, 0, 0, 1, stops)}});
  graphics.push({type: 'text', style: {x: p.barX + 12, y: TOP, text: 'High', font: '11px ' + FONT, fill: '#333', align: 'left', verticalAlign: 'middle'}});
  graphics.push({type: 'text', style: {x: p.barX + 12, y: TOP + HEIGHT, text: 'Low', font: '11px ' + FONT, fill: '#333', align: 'left', verticalAlign: 'middle'}});
  graphics.push({type: 'text', x: p.barX + 38, y: TOP + HEIGHT / 2, rotation: Math.PI / 2,
    style: {x: 0, y: 0, text: 'Feature value', font: '11px ' + FONT, fill: '#333', align: 'center', verticalAlign: 'middle'}});
});

const chart = echarts.init(document.getElementById('c'), null, {renderer: 'canvas'});
chart.setOption({
  backgroundColor: '#fff', animation: false,
  grid: grids, xAxis: xAxes, yAxis: yAxes, series: series, visualMap: visualMaps, graphic: graphics
});
</script>
</body></html>
